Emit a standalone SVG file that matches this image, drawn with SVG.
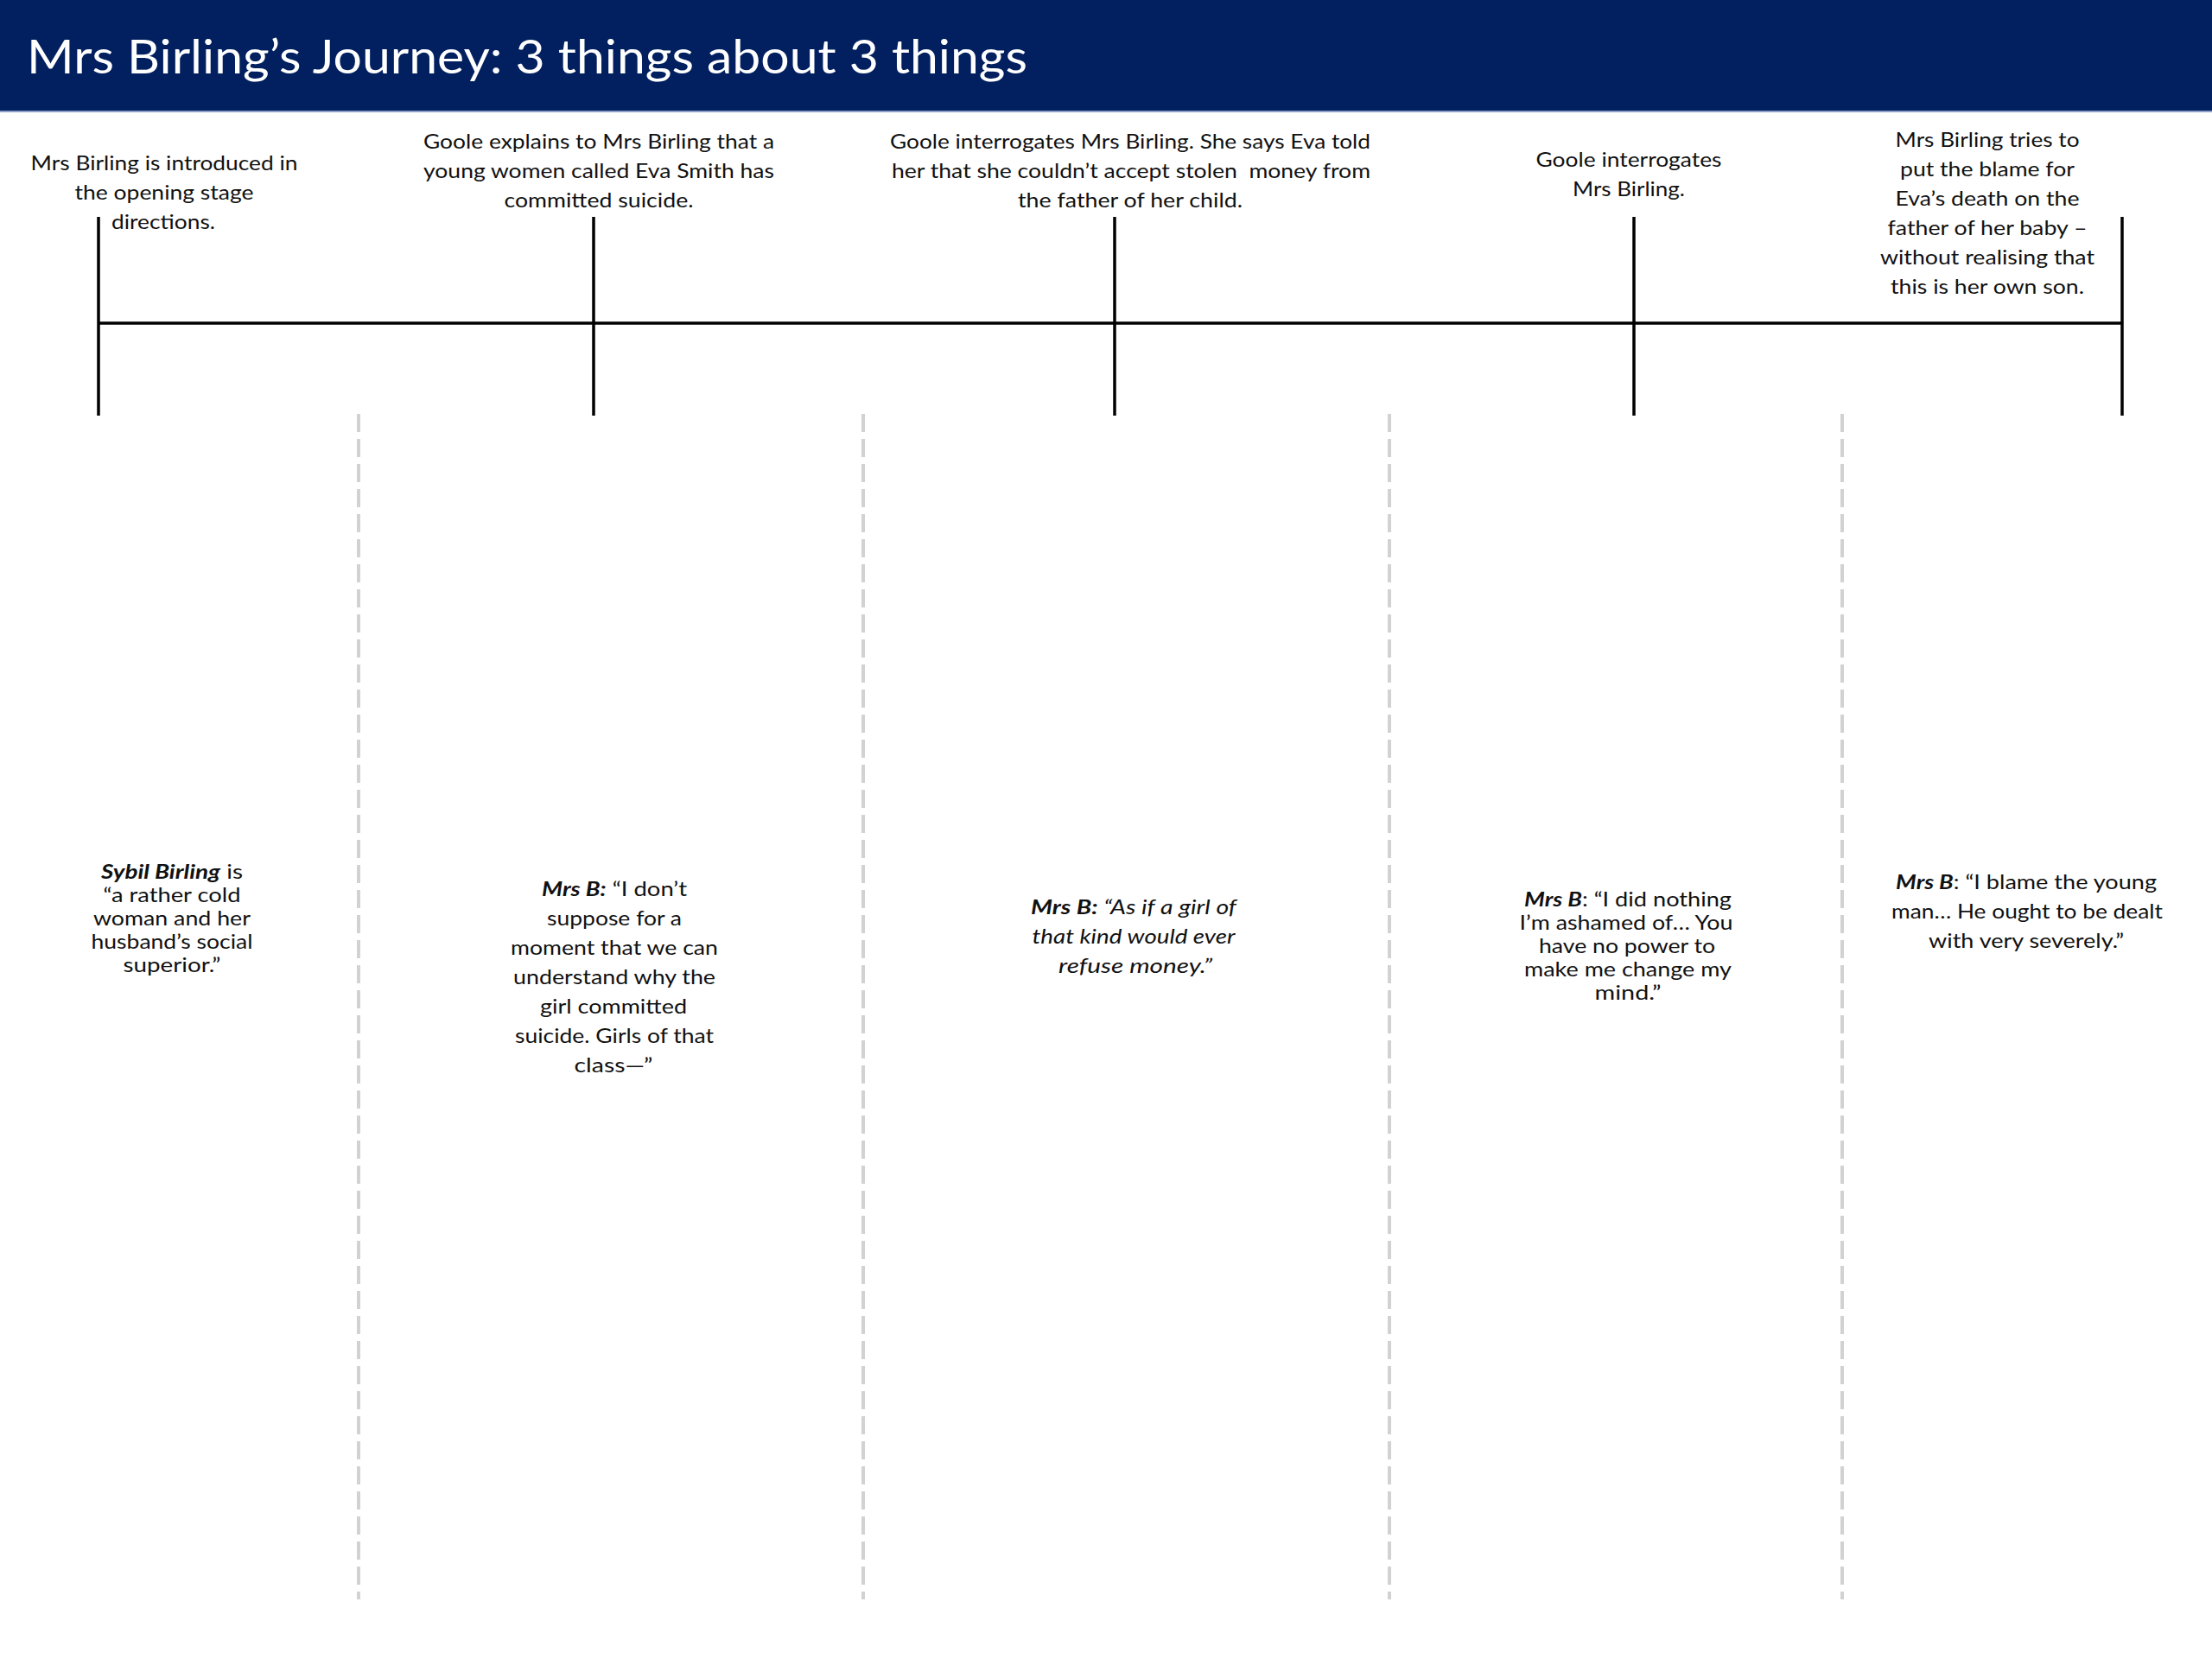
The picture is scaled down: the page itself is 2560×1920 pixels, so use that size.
<svg xmlns="http://www.w3.org/2000/svg" width="2560" height="1920" viewBox="0 0 2560 1920">
<style>
.t{font-family:Lato,"Open Sans","Liberation Sans",sans-serif;font-size:23px;fill:#111;text-anchor:middle}
.bi{font-weight:bold;font-style:italic}
.it{font-style:italic}
.title{font-family:Lato,"Open Sans","Liberation Sans",sans-serif;font-size:54px;fill:#fff}
.tick{stroke:#000;stroke-width:3.5;fill:none}
.div{stroke:#d2d2d2;stroke-width:4;stroke-dasharray:21 8;fill:none}
</style>
<rect x="0" y="0" width="2560" height="1920" fill="#fff"/>
<g id="header">
<rect x="0" y="0" width="2560" height="128" fill="#02205f"/>
<line x1="0" y1="129" x2="2560" y2="129" stroke="#8fa0c8" stroke-width="2"/>
<text class="title" x="31" y="85" textLength="1158" lengthAdjust="spacingAndGlyphs">Mrs Birling’s Journey: 3 things about 3 things</text>
</g>
<g id="timeline">
<line class="tick" x1="114" y1="374" x2="2456" y2="374"/>
<line class="tick" x1="114" y1="251" x2="114" y2="481"/>
<line class="tick" x1="687" y1="251" x2="687" y2="481"/>
<line class="tick" x1="1290" y1="251" x2="1290" y2="481"/>
<line class="tick" x1="1891" y1="251" x2="1891" y2="481"/>
<line class="tick" x1="2456" y1="251" x2="2456" y2="481"/>
</g>
<g id="dividers">
<line class="div" x1="415" y1="479" x2="415" y2="1851"/>
<line class="div" x1="999" y1="479" x2="999" y2="1851"/>
<line class="div" x1="1608" y1="479" x2="1608" y2="1851"/>
<line class="div" x1="2132" y1="479" x2="2132" y2="1851"/>
</g>
<g id="event1">
<text class="t" x="190" y="197" textLength="309" lengthAdjust="spacingAndGlyphs">Mrs Birling is introduced in</text>
<text class="t" x="190" y="231" textLength="207" lengthAdjust="spacingAndGlyphs">the opening stage</text>
<text class="t" x="189" y="265" textLength="120" lengthAdjust="spacingAndGlyphs">directions.</text>
</g>
<g id="event2">
<text class="t" x="693" y="172" textLength="406" lengthAdjust="spacingAndGlyphs">Goole explains to Mrs Birling that a</text>
<text class="t" x="693" y="206" textLength="406" lengthAdjust="spacingAndGlyphs">young women called Eva Smith has</text>
<text class="t" x="693" y="240" textLength="219" lengthAdjust="spacingAndGlyphs">committed suicide.</text>
</g>
<g id="event3">
<text class="t" x="1308" y="172" textLength="556" lengthAdjust="spacingAndGlyphs">Goole interrogates Mrs Birling. She says Eva told</text>
<text class="t" x="1309" y="206" textLength="554" lengthAdjust="spacingAndGlyphs" style="white-space:pre">her that she couldn’t accept stolen  money from</text>
<text class="t" x="1308" y="240" textLength="260" lengthAdjust="spacingAndGlyphs">the father of her child.</text>
</g>
<g id="event4">
<text class="t" x="1885" y="193" textLength="215" lengthAdjust="spacingAndGlyphs">Goole interrogates</text>
<text class="t" x="1885" y="227" textLength="130" lengthAdjust="spacingAndGlyphs">Mrs Birling.</text>
</g>
<g id="event5">
<text class="t" x="2300" y="170" textLength="213" lengthAdjust="spacingAndGlyphs">Mrs Birling tries to</text>
<text class="t" x="2300" y="204" textLength="202" lengthAdjust="spacingAndGlyphs">put the blame for</text>
<text class="t" x="2300" y="238" textLength="213" lengthAdjust="spacingAndGlyphs">Eva’s death on the</text>
<text class="t" x="2300" y="272" textLength="231" lengthAdjust="spacingAndGlyphs">father of her baby –</text>
<text class="t" x="2300" y="306" textLength="248" lengthAdjust="spacingAndGlyphs">without realising that</text>
<text class="t" x="2300" y="340" textLength="224" lengthAdjust="spacingAndGlyphs">this is her own son.</text>
</g>
<g id="quote1">
<text class="t" x="199" y="1017" textLength="164" lengthAdjust="spacingAndGlyphs"><tspan class="bi">Sybil Birling</tspan> is</text>
<text class="t" x="199" y="1044" textLength="159" lengthAdjust="spacingAndGlyphs">“a rather cold</text>
<text class="t" x="199" y="1071" textLength="182" lengthAdjust="spacingAndGlyphs">woman and her</text>
<text class="t" x="199" y="1098" textLength="187" lengthAdjust="spacingAndGlyphs">husband’s social</text>
<text class="t" x="199" y="1125" textLength="113" lengthAdjust="spacingAndGlyphs">superior.”</text>
</g>
<g id="quote2">
<text class="t" x="711" y="1037" textLength="168" lengthAdjust="spacingAndGlyphs"><tspan class="bi">Mrs B:</tspan> “I don’t</text>
<text class="t" x="711" y="1071" textLength="156" lengthAdjust="spacingAndGlyphs">suppose for a</text>
<text class="t" x="711" y="1105" textLength="240" lengthAdjust="spacingAndGlyphs">moment that we can</text>
<text class="t" x="711" y="1139" textLength="234" lengthAdjust="spacingAndGlyphs">understand why the</text>
<text class="t" x="710" y="1173" textLength="170" lengthAdjust="spacingAndGlyphs">girl committed</text>
<text class="t" x="711" y="1207" textLength="230" lengthAdjust="spacingAndGlyphs">suicide. Girls of that</text>
<text class="t" x="710" y="1241" textLength="91" lengthAdjust="spacingAndGlyphs">class—”</text>
</g>
<g id="quote3">
<text class="t it" x="1312" y="1058" textLength="238" lengthAdjust="spacingAndGlyphs"><tspan class="bi">Mrs B:</tspan> “As if a girl of</text>
<text class="t it" x="1312" y="1092" textLength="235" lengthAdjust="spacingAndGlyphs">that kind would ever</text>
<text class="t it" x="1314" y="1126" textLength="178" lengthAdjust="spacingAndGlyphs">refuse money.”</text>
</g>
<g id="quote4">
<text class="t" x="1884" y="1049" textLength="240" lengthAdjust="spacingAndGlyphs"><tspan class="bi">Mrs B</tspan>: “I did nothing</text>
<text class="t" x="1882" y="1076" textLength="247" lengthAdjust="spacingAndGlyphs">I’m ashamed of… You</text>
<text class="t" x="1883" y="1103" textLength="204" lengthAdjust="spacingAndGlyphs">have no power to</text>
<text class="t" x="1884" y="1130" textLength="240" lengthAdjust="spacingAndGlyphs">make me change my</text>
<text class="t" x="1884" y="1157" textLength="77" lengthAdjust="spacingAndGlyphs">mind.”</text>
</g>
<g id="quote5">
<text class="t" x="2345" y="1029" textLength="302" lengthAdjust="spacingAndGlyphs"><tspan class="bi">Mrs B</tspan>: “I blame the young</text>
<text class="t" x="2346" y="1063" textLength="314" lengthAdjust="spacingAndGlyphs">man… He ought to be dealt</text>
<text class="t" x="2345" y="1097" textLength="226" lengthAdjust="spacingAndGlyphs">with very severely.”</text>
</g>
</svg>
